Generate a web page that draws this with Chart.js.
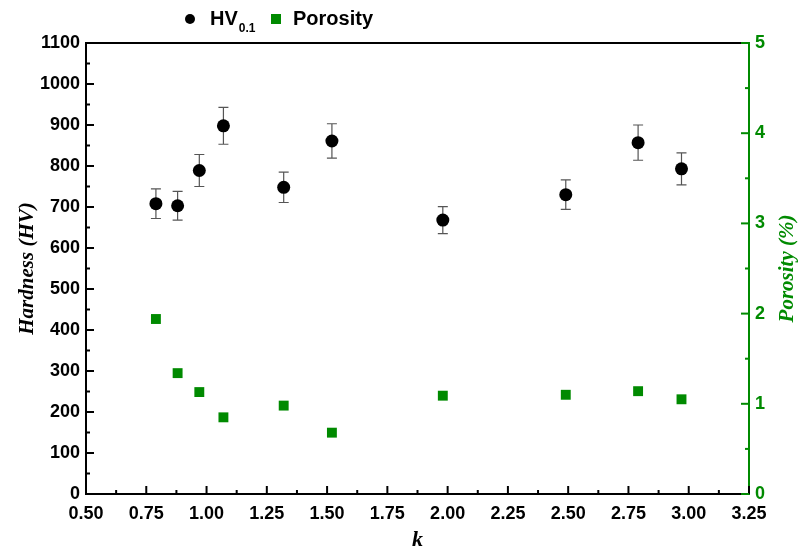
<!DOCTYPE html>
<html><head><meta charset="utf-8">
<script src="https://cdn.jsdelivr.net/npm/chart.js@4.4.1/dist/chart.umd.min.js"></script>
<style>html,body{margin:0;padding:0;background:#fff}#wrap{width:800px;height:554px;position:relative}</style>
</head><body><div id="wrap"><canvas id="c" width="800" height="554"></canvas></div>
<script>
// ---- data ----
const kValues = [0.79, 0.88, 0.97, 1.07, 1.32, 1.52, 1.98, 2.49, 2.79, 2.97];
const hardness = [708, 703, 789, 898, 748, 861, 668, 730, 857, 793];
const hardnessErr = [36, 35, 39, 45, 37, 42, 33, 36, 43, 39];
const porosity = [1.94, 1.34, 1.13, 0.85, 0.98, 0.68, 1.09, 1.10, 1.14, 1.05];
const legendLabels = ['HV', 'Porosity'];
const legendSub = '0.1';
const xTitle = 'k';
const yTitle = 'Hardness (HV)';
const y1Title = 'Porosity (%)';

const GREEN = '#008a00';
const SANS = "'Liberation Sans', Arial, sans-serif";
const SERIF = "'Liberation Serif', 'Times New Roman', serif";

const hvData = kValues.map((k, i) => ({x: k, y: hardness[i]}));
const porData = kValues.map((k, i) => ({x: k, y: porosity[i]}));

const decor = {
  id: 'decor',
  beforeDatasetsDraw(chart) {
    // error bars
    const ctx = chart.ctx, xs = chart.scales.x, ys = chart.scales.y;
    ctx.save();
    ctx.strokeStyle = '#555';
    ctx.lineWidth = 1.2;
    kValues.forEach((k, i) => {
      const px = xs.getPixelForValue(k);
      const top = ys.getPixelForValue(hardness[i] + hardnessErr[i]);
      const bot = ys.getPixelForValue(hardness[i] - hardnessErr[i]);
      ctx.beginPath();
      ctx.moveTo(px, top); ctx.lineTo(px, bot);
      ctx.moveTo(px - 5, top); ctx.lineTo(px + 5, top);
      ctx.moveTo(px - 5, bot); ctx.lineTo(px + 5, bot);
      ctx.stroke();
    });
    ctx.restore();
  },
  afterDraw(chart) {
    const ctx = chart.ctx, a = chart.chartArea;
    const xs = chart.scales.x, ys = chart.scales.y, y1 = chart.scales.y1;
    ctx.save();
    // top border
    ctx.strokeStyle = '#000'; ctx.lineWidth = 2;
    ctx.beginPath(); ctx.moveTo(a.left, a.top); ctx.lineTo(a.right, a.top); ctx.stroke();
    // inward ticks
    const drawTicks = (scale, min, max, step, color, dir) => {
      ctx.strokeStyle = color; ctx.lineWidth = 2;
      const n = Math.round((max - min) / (step / 2));
      for (let j = 0; j <= n; j++) {
        const v = min + j * step / 2;
        const len = (j % 2 === 0) ? 8 : 4;
        const p = scale.getPixelForValue(v);
        ctx.beginPath();
        if (dir === 'up') { ctx.moveTo(p, a.bottom); ctx.lineTo(p, a.bottom - len); }
        else if (dir === 'right') { ctx.moveTo(a.left, p); ctx.lineTo(a.left + len, p); }
        else { ctx.moveTo(a.right, p); ctx.lineTo(a.right - len, p); }
        ctx.stroke();
      }
    };
    drawTicks(xs, 0.5, 3.25, 0.25, '#000', 'up');
    drawTicks(ys, 0, 1100, 100, '#000', 'right');
    drawTicks(y1, 0, 5, 1, GREEN, 'left');
    // right axis title (reads bottom to top)
    ctx.save();
    ctx.translate(788, (a.top + a.bottom) / 2);
    ctx.rotate(-Math.PI / 2);
    ctx.fillStyle = GREEN;
    ctx.font = 'italic bold 21px ' + SERIF;
    ctx.textAlign = 'center'; ctx.textBaseline = 'middle';
    ctx.fillText(y1Title, 0, 0);
    ctx.restore();
    // legend
    const ly = 19;
    ctx.fillStyle = '#000';
    ctx.beginPath(); ctx.arc(190, ly, 5, 0, Math.PI * 2); ctx.fill();
    ctx.font = 'bold 20px ' + SANS;
    ctx.textBaseline = 'middle'; ctx.textAlign = 'left';
    ctx.fillText(legendLabels[0], 210, ly);
    const w = ctx.measureText(legendLabels[0]).width;
    ctx.font = 'bold 12px ' + SANS;
    ctx.fillText(legendSub, 210 + w + 1, ly + 10);
    ctx.fillStyle = GREEN;
    ctx.fillRect(271, ly - 5, 10, 10);
    ctx.fillStyle = '#000';
    ctx.font = 'bold 20px ' + SANS;
    ctx.fillText(legendLabels[1], 293, ly);
    ctx.restore();
  }
};

new Chart(document.getElementById('c'), {
  type: 'scatter',
  data: {
    datasets: [
      {label: legendLabels[0], data: hvData, yAxisID: 'y', pointStyle: 'circle',
       pointRadius: 6.5, pointHoverRadius: 6.5, backgroundColor: '#000', borderColor: '#000', borderWidth: 0},
      {label: legendLabels[1], data: porData, yAxisID: 'y1', pointStyle: 'rect',
       pointRadius: 7, pointHoverRadius: 7, backgroundColor: GREEN, borderColor: GREEN, borderWidth: 0}
    ]
  },
  options: {
    responsive: false,
    animation: false,
    layout: {padding: {top: 43, left: 0, right: 0, bottom: 0}},
    plugins: {legend: {display: false}, tooltip: {enabled: false}},
    scales: {
      x: {
        type: 'linear', min: 0.5, max: 3.25,
        afterFit: s => { s.height = 60; },
        grid: {display: false, drawTicks: false},
        border: {display: true, color: '#000', width: 2},
        ticks: {stepSize: 0.25, color: '#000', padding: 9,
                font: {family: SANS, size: 18, weight: 'bold'},
                callback: v => v.toFixed(2)},
        title: {display: true, text: xTitle, color: '#000', padding: {top: 0, bottom: 0},
                font: {family: SERIF, size: 22, weight: 'bold', style: 'italic'}}
      },
      y: {
        type: 'linear', position: 'left', min: 0, max: 1100,
        afterFit: s => { s.width = 86; },
        grid: {display: false, drawTicks: false},
        border: {display: true, color: '#000', width: 2},
        ticks: {stepSize: 100, color: '#000', padding: 6,
                font: {family: SANS, size: 18, weight: 'bold'},
                callback: v => String(v)},
        title: {display: true, text: yTitle, color: '#000', padding: {top: 15, bottom: 0},
                font: {family: SERIF, size: 21, weight: 'bold', style: 'italic'}}
      },
      y1: {
        type: 'linear', position: 'right', min: 0, max: 5,
        afterFit: s => { s.width = 51; },
        grid: {display: false, drawTicks: false},
        border: {display: true, color: GREEN, width: 2},
        ticks: {stepSize: 1, color: GREEN, padding: 6,
                font: {family: SANS, size: 18, weight: 'bold'},
                callback: v => String(v)},
        title: {display: false, text: y1Title}
      }
    }
  },
  plugins: [decor]
});
</script>
</body></html>
